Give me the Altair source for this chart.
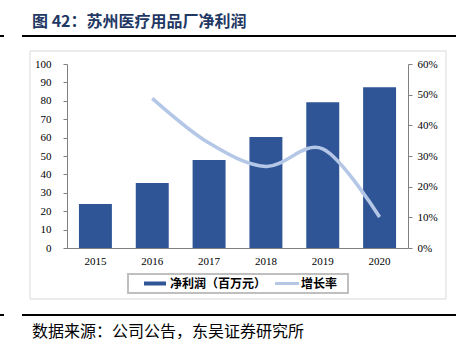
import altair as alt
import pandas as pd

years = ["2015", "2016", "2017", "2018", "2019", "2020"]
net_profit = [23.9, 35.3, 47.8, 60.3, 79.2, 87.3]
growth_years = ["2016", "2017", "2018", "2019", "2020"]
growth = [0.488, 0.342, 0.266, 0.323, 0.101]
left_ticks = [0, 10, 20, 30, 40, 50, 60, 70, 80, 90, 100]
right_ticks = [0, 0.1, 0.2, 0.3, 0.4, 0.5, 0.6]

title_text = "图 42：苏州医疗用品厂净利润"
source_text = "数据来源：公司公告，东吴证券研究所"
legend_bar = "净利润（百万元）"
legend_line = "增长率"

BAR = "#2F5597"
LINE = "#B4C7E7"
AX = "#808080"
SERIF = "Liberation Serif"
CJK = "Noto Sans CJK SC"

bars_df = pd.DataFrame({"year": years, "profit": net_profit})
line_df = pd.DataFrame({"year": growth_years, "growth": growth})
one = pd.DataFrame({"k": [0]})

xenc = alt.X(
    "year:N",
    scale=alt.Scale(domain=years, paddingInner=0.42, paddingOuter=0.21),
    axis=alt.Axis(title=None, labelAngle=0, ticks=False, domainColor=AX,
                  labelFont=SERIF, labelFontSize=11, labelColor="#000000",
                  labelPadding=7),
)

bars = alt.Chart(bars_df).mark_bar(color=BAR).encode(
    x=xenc,
    y=alt.Y("profit:Q", scale=alt.Scale(domain=[0, 100], nice=False),
            axis=alt.Axis(title=None, orient="left", values=left_ticks, grid=False,
                          domainColor=AX, tickColor=AX, tickSize=4, labelPadding=12,
                          labelFont=SERIF, labelFontSize=11, labelColor="#000000")),
)

line = alt.Chart(line_df).mark_line(color=LINE, strokeWidth=3.5, interpolate="cardinal").encode(
    x=alt.X("year:N", scale=alt.Scale(domain=years, paddingInner=0.42, paddingOuter=0.21)),
    y=alt.Y("growth:Q", scale=alt.Scale(domain=[0, 0.6], nice=False),
            axis=alt.Axis(title=None, orient="right", values=right_ticks, format=".0%",
                          grid=False, domainColor=AX, tickColor=AX, tickSize=4,
                          labelPadding=5, labelFont=SERIF, labelFontSize=11,
                          labelColor="#000000")),
)

box = alt.Chart(one).mark_rect(fill="transparent", stroke="#D9D9D9", strokeWidth=1).encode(
    x=alt.value(-37), x2=alt.value(379), y=alt.value(-13), y2=alt.value(235))

top_rule = alt.Chart(one).mark_rule(color="#000000", strokeWidth=2).encode(
    x=alt.value(-45), x2=alt.value(389), y=alt.value(-28))
top_dash = alt.Chart(one).mark_rule(color="#000000", strokeWidth=2).encode(
    x=alt.value(-67), x2=alt.value(-63), y=alt.value(-28))
bot_rule = alt.Chart(one).mark_rule(color="#000000", strokeWidth=2).encode(
    x=alt.value(-45), x2=alt.value(389), y=alt.value(251))
bot_dash = alt.Chart(one).mark_rule(color="#000000", strokeWidth=2).encode(
    x=alt.value(-67), x2=alt.value(-63), y=alt.value(251))

title = alt.Chart(one).mark_text(
    text=title_text, align="left", baseline="middle", font=CJK, fontWeight="bold",
    fontSize=16, color="#1F3864").encode(x=alt.value(-35), y=alt.value(-42))
source = alt.Chart(one).mark_text(
    text=source_text, align="left", baseline="middle", font=CJK,
    fontSize=16, color="#000000").encode(x=alt.value(-35), y=alt.value(268))

leg_box = alt.Chart(one).mark_rect(fill="transparent", stroke="#BFBFBF", strokeWidth=2).encode(
    x=alt.value(61), x2=alt.value(281), y=alt.value(210), y2=alt.value(229))
leg_bar = alt.Chart(one).mark_rect(color=BAR).encode(
    x=alt.value(77), x2=alt.value(99), y=alt.value(217.5), y2=alt.value(221.5))
leg_bar_t = alt.Chart(one).mark_text(
    text=legend_bar, align="left", baseline="middle", font=CJK, fontWeight="bold",
    fontSize=12, color="#000000").encode(x=alt.value(103), y=alt.value(219.5))
leg_line = alt.Chart(one).mark_rule(color=LINE, strokeWidth=3).encode(
    x=alt.value(208), x2=alt.value(232), y=alt.value(219.5))
leg_line_t = alt.Chart(one).mark_text(
    text=legend_line, align="left", baseline="middle", font=CJK, fontWeight="bold",
    fontSize=12, color="#000000").encode(x=alt.value(234), y=alt.value(219.5))

chart = alt.layer(
    box, bars, line, top_rule, top_dash, bot_rule, bot_dash, title, source,
    leg_box, leg_bar, leg_bar_t, leg_line, leg_line_t
).resolve_scale(y="independent").properties(
    width=341, height=184,
    padding={"left": 67, "top": 64, "right": 57, "bottom": 104},
    autosize=alt.AutoSizeParams(type="none"),
    background="#FFFFFF",
).configure_view(stroke=None)

chart.save("out.html", embed_options={"renderer": "svg", "actions": False})
